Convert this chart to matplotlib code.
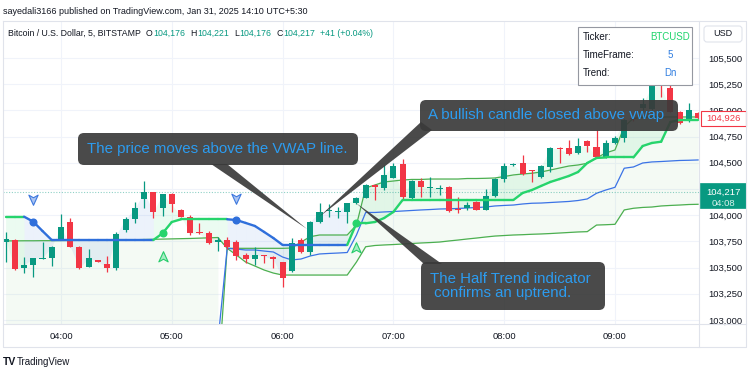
import numpy as np
import matplotlib
matplotlib.use("Agg")
import matplotlib.pyplot as plt
from matplotlib.collections import LineCollection
from matplotlib.patches import FancyBboxPatch, Polygon, Rectangle
from matplotlib.path import Path

plt.rcParams['font.family'] = ['Liberation Sans', 'DejaVu Sans']

# BTCUSD, 5 minute candles from 03:30 to 09:45
time_labels = ['04:00', '05:00', '06:00', '07:00', '08:00', '09:00']
time_pos = [6, 18, 30, 42, 54, 66]

opens = [103747, 103763, 103493, 103525, 103585, 103594, 103763, 103938, 103699, 103509,
         103568, 103534, 103499, 103859, 103964, 104155, 104218, 104066, 104205, 104050,
         103986, 103835, 103827, 103747, 103763, 103747, 103620, 103579, 103615, 103604,
         103551, 103470, 103763, 103646, 103938, 104036, 104030, 104033, 104114, 104167,
         104288, 104257, 104358, 104489, 104161, 104326, 104262, 104252, 104266, 104055,
         104066, 104129, 104050, 104183, 104343, 104475, 104495, 104430, 104367, 104463,
         104645, 104638, 104591, 104708, 104654, 104549, 104686, 104740, 104930, 105023,
         105010, 105240, 105211, 104988, 104908, 104978]
highs = [103842, 103770, 103598, 103592, 103747, 103705, 104009, 103970, 103705, 103677,
         103572, 103614, 103842, 103986, 104129, 104326, 104225, 104205, 104210, 104055,
         104002, 103926, 103850, 103795, 103790, 103760, 103640, 103699, 103625, 103610,
         103556, 103780, 103780, 103945, 104114, 104104, 104081, 104117, 104175, 104295,
         104295, 104479, 104500, 104533, 104340, 104352, 104365, 104290, 104275, 104177,
         104129, 104135, 104250, 104355, 104501, 104501, 104574, 104435, 104480, 104650,
         104650, 104718, 104734, 104715, 104813, 104718, 104756, 104920, 104940, 105118,
         105290, 105245, 105274, 104995, 105073, 104985]
lows = [103556, 103480, 103446, 103413, 103580, 103518, 103760, 103695, 103487, 103505,
        103555, 103455, 103477, 103837, 103923, 104066, 103970, 103995, 104033, 103980,
        103811, 103820, 103725, 103658, 103680, 103573, 103544, 103525, 103545, 103493,
        103318, 103461, 103636, 103620, 103923, 103986, 103970, 103926, 104105, 104160,
        104145, 104240, 104355, 104145, 104150, 104177, 104174, 104193, 104033, 104018,
        104050, 104045, 104045, 104178, 104320, 104465, 104384, 104320, 104355, 104415,
        104498, 104575, 104585, 104606, 104550, 104543, 104680, 104702, 104900, 105004,
        105004, 105131, 104985, 104870, 104892, 104920]
closes = [103770, 103487, 103525, 103589, 103594, 103699, 103890, 103699, 103499, 103589,
          103558, 103499, 103818, 103964, 104066, 104218, 104033, 104199, 104104, 103986,
          103827, 103826, 103735, 103763, 103699, 103611, 103579, 103620, 103608, 103579,
          103398, 103738, 103646, 103938, 104033, 104043, 104036, 104114, 104161, 104288,
          104266, 104384, 104472, 104171, 104329, 104272, 104270, 104260, 104040, 104050,
          104095, 104050, 104183, 104345, 104469, 104481, 104393, 104422, 104469, 104638,
          104636, 104581, 104660, 104660, 104558, 104686, 104734, 104908, 104922, 105061,
          105233, 105230, 104988, 104877, 105004, 104926]

# Half Trend line and its direction (1 = up, -1 = down)
halftrend = [103986, 103986, 103986, 103938, 103849, 103763, 103763, 103763, 103763, 103763,
             103763, 103763, 103763, 103763, 103763, 103763, 103763, 103827, 103935, 103961,
             103961, 103961, 103961, 103961, 103961, 103954, 103926, 103897, 103840, 103782,
             103716, 103716, 103716, 103716, 103716, 103716, 103716, 103716, 103923, 103923,
             103935, 103973, 104031, 104145, 104145, 104145, 104145, 104145, 104145, 104145,
             104145, 104145, 104145, 104145, 104145, 104145, 104212, 104240, 104279, 104317,
             104345, 104374, 104412, 104498, 104546, 104551, 104551, 104551, 104551, 104660,
             104689, 104701, 104889, 104908, 104908, 104908]
trend = [1, 1, 1, -1, -1, -1, -1, -1, -1, -1, -1, -1, -1, -1, -1, -1, -1, 1, 1, 1,
         1, 1, 1, 1, 1, -1, -1, -1, -1, -1, -1, -1, -1, -1, -1, -1, -1, -1, 1, 1,
         1, 1, 1, 1, 1, 1, 1, 1, 1, 1, 1, 1, 1, 1, 1, 1, 1, 1, 1, 1,
         1, 1, 1, 1, 1, 1, 1, 1, 1, 1, 1, 1, 1, 1, 1, 1]
sell_idx = [3, 25]
sell_price = [104155, 104164]
buy_idx = [17, 38]
buy_price = [103601, 103687]

# session VWAP with its bands (new session starts at 05:30)
vwap = [102800, 102800, 102800, 102800, 102800, 102800, 102800, 102800, 102800, 102800,
        102800, 102800, 102800, 102800, 102800, 102800, 102800, 102800, 102800, 102800,
        102800, 102800, 102800, 102800, 103684, 103677, 103668, 103668, 103658, 103649,
        103601, 103573, 103582, 103611, 103630, 103635, 103639, 103644, 103811, 104026,
        104026, 104031, 104035, 104040, 104045, 104050, 104054, 104059, 104061, 104064,
        104069, 104073, 104078, 104088, 104093, 104097, 104107, 104114, 104116, 104121,
        104126, 104131, 104140, 104155, 104209, 104240, 104266, 104448, 104460, 104498,
        104508, 104512, 104517, 104522, 104524, 104527]
band_up = [103755, 103755, 103756, 103756, 103757, 103757, 103758, 103759, 103760, 103760,
           103761, 103762, 103763, 103765, 103766, 103768, 103770, 103772, 103774, 103776,
           103778, 103781, 103784, 103787, 103684, 103684, 103684, 103684, 103684, 103684,
           103684, 103687, 103744, 103795, 103811, 103811, 103811, 103811, 103906, 104260,
           104288, 104317, 104326, 104336, 104341, 104341, 104345, 104345, 104345, 104345,
           104350, 104350, 104352, 104355, 104369, 104384, 104393, 104400, 104412, 104431,
           104450, 104469, 104479, 104495, 104546, 104594, 104622, 104844, 104925, 104932,
           104937, 104937, 104937, 104937, 104937, 104937]
band_dn = [102420, 102420, 102420, 102420, 102420, 102420, 102420, 102420, 102420, 102420,
           102420, 102420, 102420, 102420, 102420, 102420, 102420, 102420, 102420, 102420,
           102420, 102420, 102420, 102420, 103684, 103620, 103553, 103515, 103477, 103448,
           103429, 103429, 103429, 103429, 103429, 103429, 103429, 103429, 103553, 103699,
           103711, 103716, 103720, 103725, 103730, 103735, 103739, 103744, 103754, 103763,
           103773, 103782, 103792, 103801, 103806, 103811, 103814, 103818, 103821, 103825,
           103830, 103835, 103840, 103843, 103906, 103909, 103913, 104050, 104066, 104074,
           104078, 104088, 104093, 104097, 104102, 104104]
session_start = 24

price_ticks = [103000, 103250, 103500, 103750, 104000, 104250, 104500, 104750, 105000, 105250, 105500]
ref_price = 104217
last_price = 104926
legend_parts = [('O', 'key'), ('104,176', 'val'), ('H', 'key'), ('104,221', 'val'),
                ('L', 'key'), ('104,176', 'val'), ('C', 'key'), ('104,217', 'val'),
                ('+41 (+0.04%)', 'chg')]

GREEN = '#089981'
RED = '#f23645'
HT_UP = '#26d46c'
HT_DN = '#2f6fdb'
VW_BLUE = '#3b73e6'
BAND = '#4caf50'
TXT = '#131722'
NOTE_BG = '#3a3a3a'
NOTE_TXT = '#2c9cf0'

W, H = 750, 375
fig = plt.figure(figsize=(7.5, 3.75), dpi=100)
ax = fig.add_axes([3 / W, 1 - 324 / H, 696 / W, 302 / H])

n = len(opens)
idx = np.arange(n)
o = np.array(opens); hi = np.array(highs); lo = np.array(lows); c = np.array(closes)
ht = np.array(halftrend); tr = np.array(trend)
vw = np.array(vwap); bu = np.array(band_up); bd = np.array(band_dn)

# vwap bands
s = session_start
ax.fill_between(idx[:s], bd[:s], bu[:s], color=BAND, alpha=0.06, lw=0, zorder=1)
ax.fill_between(idx[s:], bd[s:], bu[s:], color=BAND, alpha=0.06, lw=0, zorder=1)
ax.plot(idx, bu, color=BAND, lw=0.9, zorder=3)
ax.plot(idx, bd, color=BAND, lw=0.9, zorder=3)
ax.plot(idx, vw, color=VW_BLUE, lw=0.9, zorder=3)

# half trend fill + line
for i in range(1, n):
    fc = HT_UP if tr[i] > 0 else HT_DN
    ax.fill_between(idx[i - 1:i + 1], ht[i - 1:i + 1], c[i - 1:i + 1], color=fc,
                    alpha=0.09, lw=0, zorder=2)
segs = [[(idx[i - 1], ht[i - 1]), (idx[i], ht[i])] for i in range(1, n)]
seg_cols = [HT_UP if tr[i] > 0 else HT_DN for i in range(1, n)]
ax.add_collection(LineCollection(segs, colors=seg_cols, linewidths=1.7, zorder=6,
                                 capstyle='round'))
flips = [i for i in range(1, n) if tr[i] != tr[i - 1]]
for i in flips:
    ax.plot(idx[i], ht[i], 'o', ms=4.8, color=HT_UP if tr[i] > 0 else HT_DN, zorder=7)

dn_arrow = Path([(0, -1), (-0.8, 0.75), (0, 0.3), (0.8, 0.75), (0, -1)],
                [Path.MOVETO, Path.LINETO, Path.LINETO, Path.LINETO, Path.CLOSEPOLY])
up_arrow = Path([(0, 1), (-0.8, -0.75), (0, -0.3), (0.8, -0.75), (0, 1)],
                [Path.MOVETO, Path.LINETO, Path.LINETO, Path.LINETO, Path.CLOSEPOLY])
ax.scatter(sell_idx, sell_price, marker=dn_arrow, s=70, facecolor='#aac4f2',
           edgecolor='#3d78de', lw=0.8, zorder=7)
ax.scatter(buy_idx, buy_price, marker=up_arrow, s=70, facecolor='#a6ecc4',
           edgecolor='#27cc6b', lw=0.8, zorder=7)

# candles
cols = np.where(c >= o, GREEN, RED)
ax.vlines(idx, lo, hi, colors=cols, lw=0.9, zorder=4)
body_h = np.maximum(np.abs(c - o), 9)
ax.bar(idx, body_h, bottom=np.minimum(o, c), width=0.66, color=cols, lw=0, zorder=5)

ax.axhline(ref_price, color=GREEN, lw=0.8, ls=(0, (1, 1.5)), alpha=0.45, zorder=3)

ax.set_xlim(-0.28, 75.1)
ax.set_ylim(102962, 105843)
ax.set_xticks(time_pos)
ax.set_xticklabels(time_labels)
ax.set_yticks(price_ticks)
# 104,250 sits behind the live price label
ax.set_yticklabels(['' if v == 104250 else f'{v:,}' for v in price_ticks])
ax.yaxis.tick_right()
ax.tick_params(length=0, labelsize=6.8, labelcolor=TXT)
ax.tick_params(axis='y', pad=6.5)
ax.tick_params(axis='x', pad=6)
ax.grid(color='#f0f3fa', lw=0.8)
ax.set_axisbelow(True)
for sp in ax.spines.values():
    sp.set_visible(False)

# overlay in pixel units for frame, legend, table and notes
ov = fig.add_axes([0, 0, 1, 1], zorder=10)
ov.set_xlim(0, W)
ov.set_ylim(H, 0)
ov.axis('off')
ov.patch.set_visible(False)


def py(price):
    return ov.transData.inverted().transform(ax.transData.transform((0, price)))[1]


fr = '#e0e3eb'
ov.plot([3, 746, 746, 3, 3], [21, 21, 347, 347, 21], color=fr, lw=0.8)
ov.plot([3, 746], [324, 324], color=fr, lw=0.8)
ov.plot([699, 699], [21, 347], color=fr, lw=0.8)

ov.text(3, 11, 'sayedali3166 published on TradingView.com, Jan 31, 2025 14:10 UTC+5:30',
        fontsize=6.5, color=TXT, va='center')
prev = ov.text(8, 33, 'Bitcoin / U.S. Dollar, 5, BITSTAMP', fontsize=6.3, color=TXT,
               va='center')
for t, kind in legend_parts:
    gap = 0.5 if kind == 'val' else 5
    prev = ov.annotate(t, xy=(1, 0.5), xycoords=prev, xytext=(gap, 0),
                       textcoords='offset pixels', fontsize=6.3, va='center',
                       color=TXT if kind == 'key' else GREEN)

# info table
ov.add_patch(Rectangle((578, 27), 114, 58, fc='white', ec='#9598a1', lw=0.8))
for yy, lab, val, vc in [(37, 'Ticker:', 'BTCUSD', '#1fd46c'),
                          (55, 'TimeFrame:', '5', '#2f7de0'),
                          (73, 'Trend:', 'Dn', '#2f7de0')]:
    ov.text(583, yy, lab, fontsize=7, color=TXT, va='center')
    ov.text(670, yy, val, fontsize=7, color=vc, va='center', ha='center')

ov.add_patch(FancyBboxPatch((704, 26), 38, 16, boxstyle='round,pad=0,rounding_size=3',
                            fc='white', ec=fr, lw=0.8))
ov.text(723, 34, 'USD', fontsize=6.5, color=TXT, ha='center', va='center')

# price labels
yl = py(last_price)
ov.add_patch(Rectangle((701, yl - 7.5), 45, 15, fc='white', ec=RED, lw=0.8))
ov.text(723.5, yl, f'{last_price:,}', fontsize=6.8, color=RED, ha='center', va='center')
yr = py(ref_price)
ov.add_patch(Rectangle((700, yr - 9), 46, 25, fc=GREEN, ec=GREEN, lw=0.5))
ov.text(723, yr, f'{ref_price:,}', fontsize=6.8, color='white', ha='center', va='center')
ov.text(723, yr + 11, '04:08', fontsize=6.8, color='#d8f2ec', ha='center', va='center')

# callouts
notes = [
    ((78, 133, 280, 32), [(211, 164), (227, 164), (307, 229)], (87, 149),
     'The price moves above the VWAP line.'),
    ((420, 100, 258, 31), [(421, 122), (432, 130), (319, 217)], (428, 115.5),
     'A bullish candle closed above vwap'),
    ((421, 262, 184, 48), [(356, 203), (424, 264), (442, 264)], (430, 286),
     'The Half Trend indicator\n confirms an uptrend.'),
]
for (bx, by, bw, bh), wedge, (tx, ty), txt in notes:
    ov.add_patch(Polygon(wedge, closed=True, fc=NOTE_BG, ec='none', alpha=0.92))
    ov.add_patch(FancyBboxPatch((bx, by), bw, bh, boxstyle='round,pad=0,rounding_size=6',
                                fc=NOTE_BG, ec='none', alpha=0.92))
    ov.text(tx, ty, txt, fontsize=10.8, color=NOTE_TXT, va='center', ha='left',
            linespacing=1.05)

# logo
ov.text(3, 362, 'TV', fontsize=7.5, fontweight='bold', color=TXT, va='center')
ov.text(17, 362, 'TradingView', fontsize=7, color=TXT, va='center')

fig.savefig('out.png', dpi=100, facecolor='white')
